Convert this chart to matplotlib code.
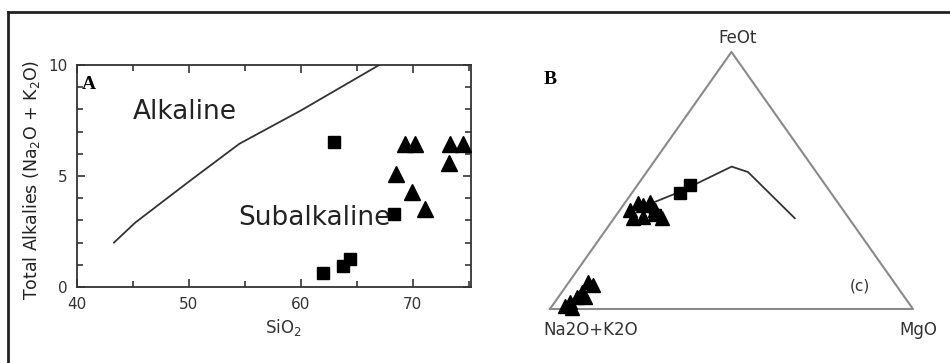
import matplotlib.pyplot as plt
from matplotlib.ticker import MultipleLocator
from matplotlib.lines import Line2D

# ---- panel A: total alkalies vs silica ----
div_sio2 = [43.3, 45.2, 50.0, 54.5, 60.0, 67.0]
div_alk = [2.0, 2.9, 4.75, 6.45, 7.95, 10.0]

sq_sio2 = [63.0, 68.3, 62.0, 63.8, 64.4]
sq_alk = [6.55, 3.3, 0.65, 0.96, 1.26]

tri_sio2 = [69.3, 70.2, 68.5, 69.9, 71.1, 73.2, 73.3, 74.5]
tri_alk = [6.45, 6.45, 5.1, 4.3, 3.5, 5.6, 6.45, 6.45]

# ---- panel B: AFM ternary (Na2O+K2O, FeOt, MgO), fractions ----
afm_line_a = [0.513, 0.414, 0.340, 0.2225, 0.188, 0.149]
afm_line_f = [0.412, 0.456, 0.494, 0.554, 0.533, 0.353]
afm_line_m = [0.075, 0.130, 0.166, 0.2235, 0.279, 0.498]

afm_sq_a = [0.417, 0.373, 0.528]
afm_sq_f = [0.450, 0.4825, 0.366]
afm_sq_m = [0.133, 0.145, 0.106]

afm_tri_a = [0.587, 0.551, 0.540, 0.516, 0.594, 0.564, 0.518, 0.516,
             0.953, 0.931, 0.903, 0.879, 0.842, 0.834, 0.880, 0.938]
afm_tri_f = [0.385, 0.411, 0.405, 0.418, 0.353, 0.359, 0.385, 0.353,
             0.012, 0.027, 0.047, 0.067, 0.106, 0.093, 0.048, 0.004]
afm_tri_m = [0.028, 0.038, 0.055, 0.066, 0.053, 0.077, 0.097, 0.131,
             0.035, 0.042, 0.050, 0.054, 0.052, 0.073, 0.072, 0.058]


def to_xy(a, f, m):
    xs, ys = [], []
    for ai, fi, mi in zip(a, f, m):
        tot = ai + fi + mi
        xs.append((mi + fi / 2.0) / tot)
        ys.append(fi / tot)
    return xs, ys


fig = plt.figure(figsize=(9.5, 3.63), dpi=100)

# outer frame (left and top edges)
fig.add_artist(Line2D([8 / 950, 8 / 950], [0, 1 - 12 / 363], color='#222222', lw=2))
fig.add_artist(Line2D([8 / 950, 949 / 950], [1 - 12 / 363, 1 - 12 / 363], color='#222222', lw=2))

ax = fig.add_axes([0.0811, 0.2094, 0.4147, 0.6116])
ax.plot(div_sio2, div_alk, color='#333333', lw=1.3)
ax.plot(sq_sio2, sq_alk, 's', color='black', ms=8.5, clip_on=False, zorder=3)
ax.plot(tri_sio2, tri_alk, '^', color='black', ms=11, clip_on=False, zorder=3)
ax.set_xlim(40, 75.2)
ax.set_ylim(0, 10)
ax.set_xticks([40, 50, 60, 70])
ax.set_yticks([0, 5, 10])
ax.xaxis.set_minor_locator(MultipleLocator(5))
ax.yaxis.set_minor_locator(MultipleLocator(1))
ax.tick_params(which='both', direction='in', top=True, right=True,
               color='#333333', width=1.2, labelsize=11, labelcolor='#333333')
ax.tick_params(which='major', length=6)
ax.tick_params(which='minor', length=4)
ax.tick_params(axis='x', pad=7)
ax.tick_params(axis='y', pad=7)
for s in ax.spines.values():
    s.set_color('#333333')
    s.set_linewidth(1.3)

ax.text(49.6, 7.9, 'Alkaline', fontsize=19, color='#222222', ha='center', va='center')
ax.text(61.2, 3.1, 'Subalkaline', fontsize=19, color='#222222', ha='center', va='center', zorder=1)
ax.text(0.013, 0.91, 'A', transform=ax.transAxes, fontsize=14, fontweight='bold',
        family='Liberation Serif', va='center', ha='left')

fig.text(32 / 950, 1 - 180 / 363, 'Total Alkalies (Na$_2$O + K$_2$O)', rotation=90,
         ha='center', va='center', fontsize=12.5, color='#222222')
fig.text(283 / 950, 1 - 327 / 363, 'SiO$_2$', ha='center', va='center',
         fontsize=12, color='#333333')

# ternary panel
axb = fig.add_axes([0.5789, 0.1488, 0.3821, 0.708])
axb.set_xlim(0, 1)
axb.set_ylim(0, 1)
axb.axis('off')

frame_x, frame_y = to_xy([1, 0, 0, 1], [0, 0, 1, 0], [0, 1, 0, 0])
axb.plot(frame_x, frame_y, color='#8a8a8a', lw=1.5, clip_on=False)

lx, ly = to_xy(afm_line_a, afm_line_f, afm_line_m)
axb.plot(lx, ly, color='#333333', lw=1.3)

tx, ty = to_xy(afm_tri_a, afm_tri_f, afm_tri_m)
axb.plot(tx, ty, '^', color='black', ms=10, clip_on=False, zorder=3)
sx, sy = to_xy(afm_sq_a, afm_sq_f, afm_sq_m)
axb.plot(sx, sy, 's', color='black', ms=8.5, clip_on=False, zorder=3)

vert_font = dict(fontsize=12, color='#333333', ha='center', va='center')
axb.annotate('FeOt', (0.5, 1), xytext=(4.5, 10), textcoords='offset points', **vert_font)
axb.annotate('Na2O+K2O', (0, 0), xytext=(29, -15), textcoords='offset points', **vert_font)
axb.annotate('MgO', (1, 0), xytext=(4, -15), textcoords='offset points', **vert_font)
axb.text(0.854, 0.089, '(c)', transform=axb.transAxes, fontsize=11,
         color='#333333', ha='center', va='center')
axb.text(0.0, 0.891, 'B', transform=axb.transAxes, fontsize=14, fontweight='bold',
         family='Liberation Serif', ha='center', va='center')

fig.savefig('out.png', dpi=100)
